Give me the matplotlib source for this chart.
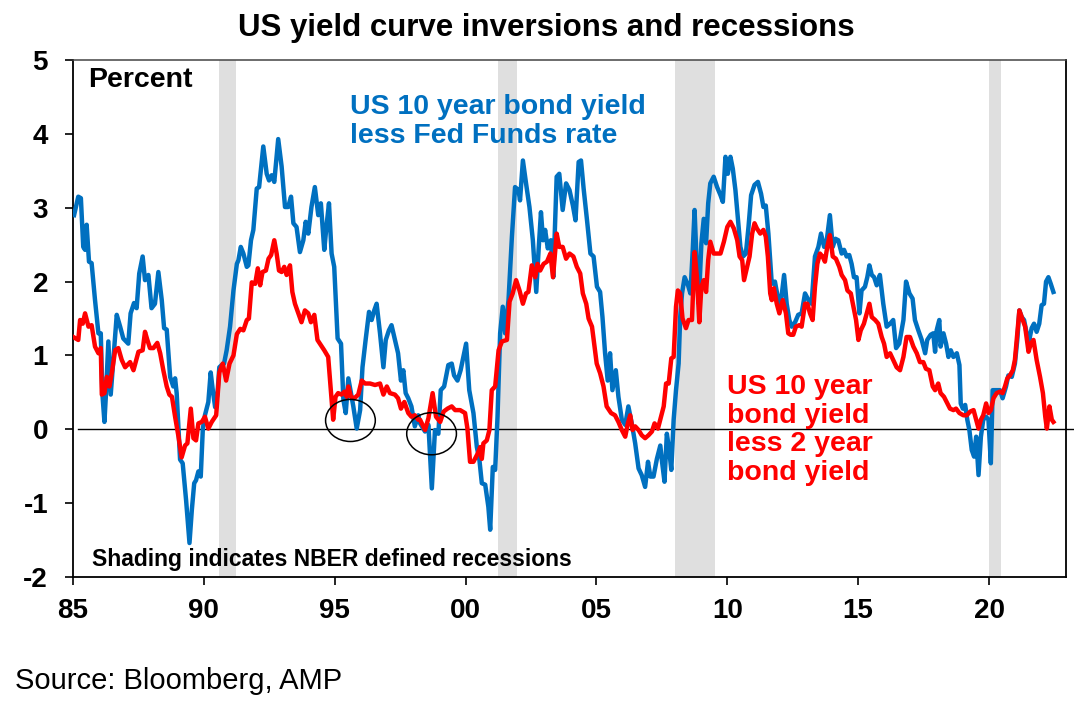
import matplotlib
matplotlib.use("Agg")
import matplotlib.pyplot as plt
from matplotlib.patches import Ellipse
from matplotlib.lines import Line2D

plt.rcParams['font.family'] = ['Liberation Sans', 'DejaVu Sans']

# ---------------- data ----------------
blue_points = [
    (1985.04, 2.90), (1985.2, 3.15), (1985.3, 3.13), (1985.39, 2.47), (1985.46, 2.43), (1985.52, 2.77),
    (1985.61, 2.27), (1985.71, 2.25), (1985.84, 1.75), (1985.97, 1.30), (1986.06, 1.30), (1986.12, 0.49),
    (1986.2, 0.10), (1986.26, 0.49), (1986.35, 1.19), (1986.44, 0.47), (1986.54, 0.94), (1986.67, 1.55),
    (1986.8, 1.39), (1986.92, 1.23), (1987.11, 1.16), (1987.2, 1.57), (1987.33, 1.71), (1987.43, 1.64),
    (1987.53, 2.11), (1987.66, 2.34), (1987.75, 2.02), (1987.88, 2.09), (1988.0, 1.64), (1988.13, 1.70),
    (1988.26, 2.13), (1988.39, 1.75), (1988.48, 1.37), (1988.58, 1.35), (1988.71, 0.71), (1988.83, 0.58),
    (1988.9, 0.69), (1988.96, 0.49), (1989.09, -0.41), (1989.19, -0.46), (1989.32, -0.96), (1989.45, -1.54),
    (1989.54, -1.09), (1989.63, -0.73), (1989.7, -0.69), (1989.79, -0.57), (1989.88, -0.64), (1989.96, 0.01),
    (1990.04, 0.19), (1990.17, 0.37), (1990.26, 0.77), (1990.34, 0.53), (1990.43, 0.30), (1990.52, 0.49),
    (1990.59, 0.84), (1990.68, 0.87), (1990.77, 0.89), (1990.87, 1.07), (1991.0, 1.39), (1991.13, 1.88),
    (1991.26, 2.24), (1991.32, 2.29), (1991.41, 2.47), (1991.51, 2.38), (1991.64, 2.20),
    (1991.70, 2.22), (1991.80, 2.56), (1991.89, 2.70), (1992.02, 3.26), (1992.11, 3.28), (1992.27, 3.83),
    (1992.4, 3.46), (1992.49, 3.37), (1992.59, 3.44), (1992.69, 3.35), (1992.84, 3.93), (1992.97, 3.56),
    (1993.1, 3.01), (1993.22, 3.01), (1993.33, 3.15), (1993.42, 2.79), (1993.54, 2.74), (1993.67, 2.40),
    (1993.8, 2.56), (1993.89, 2.81), (1993.99, 2.65), (1994.11, 3.01), (1994.24, 3.28), (1994.37, 2.90),
    (1994.47, 3.06), (1994.6, 2.43), (1994.69, 2.77), (1994.78, 3.06), (1994.88, 2.38), (1994.98, 2.20),
    (1995.11, 1.23), (1995.24, 1.16), (1995.33, 0.40), (1995.42, 0.22), (1995.52, 0.69), (1995.62, 0.49),
    (1995.71, 0.31), (1995.84, 0.01), (1995.97, 0.26), (1996.06, 0.84), (1996.18, 1.21), (1996.31, 1.59),
    (1996.41, 1.48), (1996.51, 1.61), (1996.6, 1.70), (1996.73, 1.30), (1996.86, 0.84), (1996.95, 1.21),
    (1997.07, 1.34), (1997.17, 1.41), (1997.3, 1.21), (1997.42, 1.03), (1997.53, 0.66), (1997.62, 0.80),
    (1997.71, 0.49), (1997.81, 0.42), (1997.93, 0.31), (1998.06, 0.04), (1998.19, 0.19),
    (1998.26, 0.08), (1998.45, -0.03), (1998.58, 0.06), (1998.71, -0.80), (1998.83, -0.01), (1998.96, -0.06),
    (1999.05, 0.53), (1999.18, 0.58), (1999.34, 0.87), (1999.47, 0.89), (1999.56, 0.73), (1999.69, 0.66),
    (1999.81, 0.80), (2000.02, 1.16), (2000.14, 0.53), (2000.3, 0.22), (2000.43, -0.24), (2000.53, -0.42),
    (2000.62, -0.73), (2000.75, -0.75), (2000.87, -1.05), (2000.94, -1.36), (2001.04, -0.51), (2001.13, -0.55),
    (2001.22, 0.17), (2001.32, 1.30), (2001.42, 1.66), (2001.51, 1.30), (2001.64, 1.75), (2001.77, 2.61),
    (2001.89, 3.28), (2002.02, 3.24), (2002.08, 3.10), (2002.19, 3.64), (2002.31, 3.33), (2002.44, 3.01),
    (2002.57, 2.56), (2002.7, 1.86), (2002.79, 2.43), (2002.88, 2.94), (2002.96, 2.56), (2003.04, 2.70),
    (2003.14, 2.45), (2003.26, 2.56), (2003.35, 2.06), (2003.48, 3.42), (2003.58, 3.46), (2003.71, 2.97),
    (2003.84, 3.33), (2003.97, 3.24), (2004.1, 3.03), (2004.2, 2.83), (2004.32, 3.62), (2004.41, 3.64),
    (2004.51, 3.26), (2004.64, 2.83), (2004.77, 2.38), (2004.89, 2.34), (2005.02, 1.93),
    (2005.14, 1.86), (2005.23, 1.52), (2005.33, 1.03), (2005.43, 0.66), (2005.52, 1.03), (2005.61, 0.53),
    (2005.74, 0.80), (2005.84, 0.44), (2005.97, 0.13), (2006.1, 0.06), (2006.22, 0.31), (2006.35, 0.08),
    (2006.48, -0.19), (2006.61, -0.53), (2006.73, -0.62), (2006.86, -0.78), (2006.97, -0.44), (2007.06, -0.64),
    (2007.18, -0.64), (2007.31, -0.40), (2007.44, -0.22), (2007.5, -0.42), (2007.6, -0.71), (2007.69, -0.06),
    (2007.78, -0.28), (2007.86, -0.55), (2007.95, 0.13), (2008.04, 0.53), (2008.14, 0.89), (2008.2, 1.52),
    (2008.27, 1.84), (2008.37, 2.06), (2008.5, 1.95), (2008.59, 1.84), (2008.68, 2.43), (2008.75, 2.97),
    (2008.84, 2.15), (2008.91, 1.70), (2009.01, 2.52), (2009.1, 2.85), (2009.19, 2.52), (2009.27, 3.06),
    (2009.35, 3.33), (2009.48, 3.42), (2009.61, 3.28), (2009.74, 3.17), (2009.83, 3.08), (2009.93, 3.69),
    (2010.02, 3.46), (2010.12, 3.69), (2010.21, 3.53), (2010.31, 3.24), (2010.41, 2.83), (2010.5, 2.47),
    (2010.6, 2.34), (2010.71, 2.38), (2010.81, 2.74), (2010.91, 3.17), (2011.04, 3.31), (2011.17, 3.35),
    (2011.29, 3.19), (2011.38, 3.01), (2011.47, 3.03), (2011.57, 2.65),
    (2011.7, 1.97), (2011.82, 2.00), (2011.95, 1.75), (2012.04, 1.70), (2012.17, 2.09), (2012.27, 1.70),
    (2012.37, 1.48), (2012.46, 1.39), (2012.59, 1.45), (2012.71, 1.55), (2012.84, 1.57), (2012.97, 1.84),
    (2013.1, 1.75), (2013.22, 1.70), (2013.35, 2.34), (2013.48, 2.47), (2013.58, 2.65), (2013.7, 2.47),
    (2013.8, 2.56), (2013.92, 2.90), (2014.03, 2.47), (2014.13, 2.58), (2014.24, 2.56), (2014.37, 2.38),
    (2014.46, 2.43), (2014.56, 2.34), (2014.66, 2.36), (2014.75, 2.24), (2014.84, 2.06), (2014.94, 2.06),
    (2015.05, 1.57), (2015.13, 1.88), (2015.26, 1.93), (2015.35, 2.06), (2015.43, 2.22), (2015.52, 2.09),
    (2015.61, 2.06), (2015.71, 1.95), (2015.83, 2.09), (2015.96, 1.70), (2016.09, 1.39), (2016.22, 1.43),
    (2016.34, 1.48), (2016.45, 1.10), (2016.57, 1.16),
    (2016.73, 1.48), (2016.83, 2.00), (2016.96, 1.84), (2017.08, 1.77), (2017.17, 1.48), (2017.3, 1.34),
    (2017.43, 1.21), (2017.56, 1.03), (2017.64, 1.21), (2017.77, 1.28), (2017.87, 1.30), (2017.94, 1.05),
    (2018.0, 1.34), (2018.1, 1.48), (2018.15, 1.12), (2018.26, 1.30), (2018.36, 1.16), (2018.45, 0.98),
    (2018.54, 1.07), (2018.64, 0.98), (2018.77, 1.03), (2018.87, 0.87), (2018.92, 0.35), (2019.0, 0.28),
    (2019.09, 0.33), (2019.17, 0.13), (2019.25, -0.01), (2019.34, -0.28), (2019.43, -0.37), (2019.51, -0.10),
    (2019.6, -0.62), (2019.69, -0.10), (2019.78, 0.13), (2019.89, 0.17), (2019.98, 0.13), (2020.07, -0.46),
    (2020.14, 0.53), (2020.27, 0.53), (2020.42, 0.53), (2020.52, 0.42), (2020.65, 0.58), (2020.74, 0.73),
    (2020.87, 0.71), (2020.99, 0.89), (2021.08, 1.21), (2021.16, 1.61), (2021.25, 1.52), (2021.34, 1.48),
    (2021.44, 1.30), (2021.54, 1.21), (2021.63, 1.37), (2021.72, 1.43), (2021.82, 1.32), (2021.92, 1.43),
    (2022.01, 1.68), (2022.1, 1.70), (2022.18, 2.00), (2022.27, 2.06), (2022.36, 1.97), (2022.46, 1.86),
]

red_points = [
    (1985.01, 1.25), (1985.2, 1.21), (1985.27, 1.48), (1985.37, 1.43), (1985.46, 1.57), (1985.59, 1.39),
    (1985.71, 1.41), (1985.84, 1.12), (1985.97, 1.03), (1986.06, 1.10), (1986.1, 0.47), (1986.2, 0.49),
    (1986.29, 0.71), (1986.39, 0.58), (1986.48, 0.76), (1986.61, 1.07), (1986.73, 1.10), (1986.86, 0.94),
    (1986.99, 0.84), (1987.18, 0.91), (1987.31, 0.80), (1987.5, 1.05), (1987.66, 1.07), (1987.75, 1.32),
    (1987.84, 1.21), (1987.94, 1.10), (1988.07, 1.10), (1988.22, 1.17), (1988.33, 1.03), (1988.45, 0.80),
    (1988.58, 0.58), (1988.68, 0.47), (1988.78, 0.44), (1988.9, 0.17), (1989.03, -0.10), (1989.15, -0.38),
    (1989.28, -0.22), (1989.37, -0.19), (1989.5, 0.28), (1989.6, -0.12), (1989.7, -0.15), (1989.79, 0.08),
    (1989.92, 0.10), (1990.04, 0.17), (1990.17, 0.01), (1990.3, 0.10), (1990.47, 0.19), (1990.59, 0.77),
    (1990.72, 0.89), (1990.85, 0.66), (1990.98, 0.89), (1991.13, 1.00), (1991.26, 1.29), (1991.39, 1.36),
    (1991.51, 1.34), (1991.64, 1.48),
    (1991.72, 1.50), (1991.83, 1.99), (1991.96, 1.97), (1992.06, 2.18), (1992.15, 1.95), (1992.24, 2.13),
    (1992.37, 2.15), (1992.47, 2.31), (1992.57, 2.36), (1992.69, 2.56), (1992.78, 2.38), (1992.87, 2.15),
    (1992.97, 2.13), (1993.07, 2.20), (1993.16, 2.09), (1993.29, 2.22), (1993.38, 1.86), (1993.48, 1.70),
    (1993.61, 1.57), (1993.73, 1.45), (1993.86, 1.61), (1993.99, 1.57), (1994.09, 1.45), (1994.22, 1.55),
    (1994.34, 1.21), (1994.47, 1.14), (1994.6, 1.07), (1994.75, 0.98), (1994.85, 0.53), (1994.94, 0.13),
    (1995.03, 0.44), (1995.13, 0.49), (1995.26, 0.47), (1995.37, 0.51), (1995.46, 0.44), (1995.52, 0.58),
    (1995.62, 0.44), (1995.75, 0.42), (1995.9, 0.47), (1996.03, 0.66), (1996.16, 0.62), (1996.35, 0.62),
    (1996.54, 0.60), (1996.73, 0.62), (1996.86, 0.47), (1996.99, 0.58), (1997.11, 0.49), (1997.3, 0.47),
    (1997.42, 0.42), (1997.53, 0.28), (1997.66, 0.37), (1997.81, 0.22), (1997.93, 0.17), (1998.06, 0.19),
    (1998.19, 0.13),
    (1998.26, 0.13), (1998.45, -0.01), (1998.58, 0.15), (1998.74, 0.49), (1998.87, 0.17), (1999.03, 0.10),
    (1999.16, 0.24), (1999.31, 0.28), (1999.47, 0.31), (1999.6, 0.26), (1999.79, 0.26), (1999.98, 0.22),
    (2000.07, 0.01), (2000.17, -0.44), (2000.3, -0.44), (2000.46, -0.33), (2000.56, -0.24), (2000.62, -0.40),
    (2000.68, -0.19), (2000.81, -0.15), (2000.91, -0.01), (2001.0, 0.53), (2001.13, 0.58), (2001.26, 1.07),
    (2001.39, 1.19), (2001.58, 1.21), (2001.68, 1.73), (2001.8, 1.84), (2001.93, 2.02), (2002.06, 1.88),
    (2002.19, 1.70), (2002.31, 1.84), (2002.4, 1.86), (2002.53, 2.22), (2002.66, 2.06), (2002.75, 2.24),
    (2002.85, 2.15), (2002.98, 2.24), (2003.11, 2.27), (2003.24, 2.38), (2003.34, 2.06), (2003.48, 2.65),
    (2003.58, 2.47), (2003.71, 2.47), (2003.84, 2.31), (2003.97, 2.38), (2004.12, 2.34), (2004.25, 2.20),
    (2004.38, 2.11), (2004.48, 1.84), (2004.61, 1.70), (2004.7, 1.50), (2004.83, 1.39),
    (2005.01, 0.89), (2005.14, 0.76), (2005.27, 0.58), (2005.39, 0.31), (2005.56, 0.22), (2005.71, 0.19),
    (2005.84, 0.10), (2005.97, -0.01), (2006.1, -0.10), (2006.2, 0.08), (2006.29, 0.19), (2006.38, -0.01),
    (2006.48, 0.04), (2006.61, -0.01), (2006.73, -0.08), (2006.86, -0.12), (2006.99, -0.08), (2007.12, -0.03),
    (2007.22, 0.08), (2007.35, 0.01), (2007.48, 0.19), (2007.57, 0.31), (2007.66, 0.62), (2007.76, 0.62),
    (2007.86, 0.96), (2007.95, 0.98), (2008.04, 1.66), (2008.11, 1.88), (2008.2, 1.84), (2008.29, 1.50),
    (2008.42, 1.37), (2008.52, 1.48), (2008.65, 1.48), (2008.75, 2.40), (2008.84, 2.06), (2008.93, 1.45),
    (2009.01, 1.93), (2009.1, 2.02), (2009.19, 1.86), (2009.27, 2.29), (2009.35, 2.54), (2009.48, 2.38),
    (2009.61, 2.38), (2009.74, 2.38), (2009.87, 2.54), (2010.0, 2.74), (2010.12, 2.81), (2010.25, 2.72),
    (2010.38, 2.56), (2010.47, 2.34), (2010.57, 2.29), (2010.64, 2.02), (2010.76, 2.20), (2010.85, 2.34),
    (2010.95, 2.65), (2011.04, 2.79), (2011.13, 2.72), (2011.26, 2.65), (2011.38, 2.70), (2011.47, 2.61),
    (2011.55, 2.34), (2011.64, 1.84),
    (2011.7, 1.75), (2011.78, 1.91), (2011.89, 1.70), (2011.99, 1.57), (2012.12, 1.75), (2012.24, 1.57),
    (2012.33, 1.30), (2012.42, 1.28), (2012.52, 1.28), (2012.62, 1.39), (2012.75, 1.41), (2012.84, 1.39),
    (2012.97, 1.70), (2013.06, 1.70), (2013.16, 1.57), (2013.26, 1.48), (2013.35, 1.93), (2013.44, 2.24),
    (2013.54, 2.38), (2013.64, 2.34), (2013.73, 2.27), (2013.82, 2.47), (2013.92, 2.63), (2014.03, 2.34),
    (2014.15, 2.31), (2014.28, 2.20), (2014.37, 2.09), (2014.5, 2.02), (2014.59, 1.88), (2014.72, 1.84),
    (2014.82, 1.66), (2014.92, 1.48), (2015.01, 1.21), (2015.1, 1.34), (2015.22, 1.43), (2015.33, 1.57),
    (2015.43, 1.70), (2015.52, 1.52), (2015.65, 1.48), (2015.77, 1.43), (2015.9, 1.25), (2015.99, 1.16),
    (2016.09, 0.98), (2016.22, 1.03), (2016.34, 0.94), (2016.47, 0.84),
    (2016.6, 0.80), (2016.73, 0.98), (2016.85, 1.25), (2016.98, 1.25), (2017.11, 1.12), (2017.24, 1.03),
    (2017.36, 0.91), (2017.49, 0.91), (2017.59, 0.82), (2017.72, 0.80), (2017.85, 0.58), (2017.94, 0.53),
    (2018.06, 0.62), (2018.15, 0.49), (2018.28, 0.44), (2018.38, 0.37), (2018.51, 0.28), (2018.64, 0.26),
    (2018.74, 0.28), (2018.87, 0.22), (2019.02, 0.19), (2019.15, 0.19), (2019.28, 0.24), (2019.41, 0.26),
    (2019.51, 0.13), (2019.6, 0.01), (2019.69, 0.13), (2019.78, 0.19), (2019.89, 0.35), (2019.98, 0.22),
    (2020.07, 0.26), (2020.17, 0.42), (2020.29, 0.49), (2020.42, 0.51), (2020.52, 0.49), (2020.61, 0.58),
    (2020.7, 0.69), (2020.8, 0.73), (2020.91, 0.80), (2020.99, 0.94), (2021.08, 1.30), (2021.16, 1.61),
    (2021.25, 1.52), (2021.38, 1.39), (2021.51, 1.05), (2021.6, 1.16), (2021.7, 1.21), (2021.82, 0.94),
    (2021.95, 0.71), (2022.06, 0.49), (2022.15, 0.17), (2022.21, 0.01), (2022.31, 0.31), (2022.4, 0.13),
    (2022.46, 0.10),
]

recessions = [(1990.58, 1991.23), (2001.24, 2001.97), (2008.0, 2009.53), (2020.0, 2020.45)]
circled = [(1995.6, 0.12), (1998.7, -0.06)]

x_ticks = [1985, 1990, 1995, 2000, 2005, 2010, 2015, 2020]
x_tick_labels = ["85", "90", "95", "00", "05", "10", "15", "20"]
y_ticks = [-2, -1, 0, 1, 2, 3, 4, 5]
y_tick_labels = ["-2", "-1", "0", "1", "2", "3", "4", "5"]

title = "US yield curve inversions and recessions"
blue_label = "US 10 year bond yield\nless Fed Funds rate"
red_label = "US 10 year\nbond yield\nless 2 year\nbond yield"
shade_note = "Shading indicates NBER defined recessions"
source = "Source: Bloomberg, AMP"

BLUE = "#0070C0"
RED = "#FF0000"

# ---------------- figure ----------------
fig = plt.figure(figsize=(10.74, 7.15), dpi=100)
ax = fig.add_axes([0.068, 0.193, 0.9245, 0.723])

for a, b in recessions:
    ax.axvspan(a, b, color="#DFDFDF", lw=0, zorder=0)

ax.add_line(Line2D([0.005, 1.01], [0, 0], transform=ax.get_yaxis_transform(),
                   color="black", lw=1.0, clip_on=False, zorder=1))

bx, by = zip(*blue_points)
rx, ry = zip(*red_points)
ax.plot(bx, by, color=BLUE, lw=3.2, zorder=3, solid_joinstyle="round")
ax.plot(rx, ry, color=RED, lw=3.2, zorder=4, solid_joinstyle="round")

for cx, cy in circled:
    ax.add_patch(Ellipse((cx, cy), 1.9, 0.57, fill=False, ec="black", lw=1.1, zorder=5))

ax.set_xlim(1985, 2022.94)
ax.set_ylim(-2, 5)
ax.set_xticks(x_ticks)
ax.set_xticklabels(x_tick_labels)
ax.set_yticks(y_ticks)
ax.set_yticklabels(y_tick_labels)
ax.tick_params(axis="both", direction="out", length=6, width=1.2, labelsize=20)
ax.tick_params(axis="y", pad=12)
ax.tick_params(axis="x", pad=9)
for lab in ax.get_xticklabels() + ax.get_yticklabels():
    lab.set_fontweight("bold")
for name, s in ax.spines.items():
    s.set_linewidth(1.3)
    s.set_color("black")
ax.spines["top"].set_color("#444444")
ax.spines["top"].set_linewidth(1.1)

fig.text(546 / 1074, 1 - 28 / 715, title, fontsize=22.5, fontweight="bold", ha="center", va="center")

ax.text(0.015, 0.961, "Percent", transform=ax.transAxes, fontsize=20.5, fontweight="bold",
        va="center", ha="left")
ax.text(1995.58, 4.17, blue_label, fontsize=20.5, fontweight="bold", color=BLUE,
        va="center", ha="left", linespacing=1.12)
ax.text(2010.0, -0.01, red_label, fontsize=20.5, fontweight="bold", color=RED,
        va="center", ha="left", linespacing=1.12)
ax.text(0.019, 0.033, shade_note, transform=ax.transAxes, fontsize=16.5, fontweight="bold",
        va="center", ha="left")

fig.text(15 / 1074, 1 - 681 / 715, source, fontsize=21, va="center", ha="left")

fig.savefig("out.png", dpi=100)
